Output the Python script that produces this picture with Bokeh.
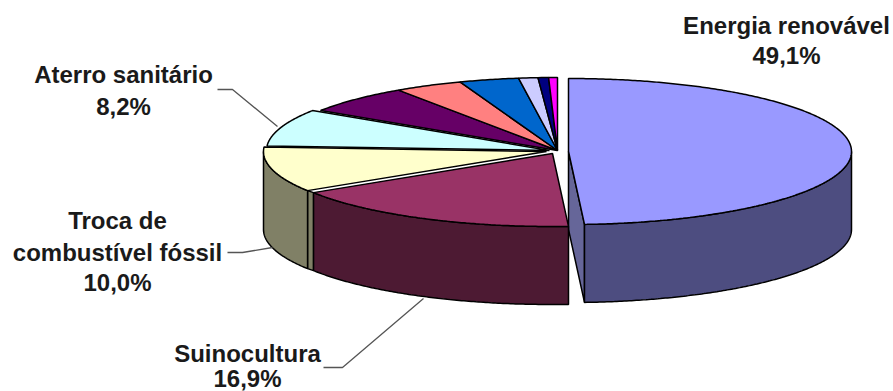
import numpy as np
from bokeh.core.properties import value
from bokeh.embed import file_html
from bokeh.models import Range1d
from bokeh.plotting import figure
from bokeh.resources import INLINE

# Share of each source, clockwise from twelve o'clock
categories = ["Energia renovável", "Suinocultura", "Troca de combustível fóssil",
              "Aterro sanitário", "Outros 1", "Outros 2", "Outros 3", "Outros 4",
              "Outros 5", "Outros 6"]
shares = [49.1, 16.9, 10.0, 8.2, 6.3, 3.9, 3.4, 1.1, 0.6, 0.5]
top_colors = ["#9999ff", "#993366", "#ffffcc", "#ccffff", "#660066",
              "#ff8080", "#0066cc", "#ccccff", "#000080", "#ff00ff"]
wall_colors = ["#4d4d80", "#4d1a33", "#808066", "#668080", "#330033",
               "#804040", "#003366", "#666680", "#000040", "#800080"]

# Centre of each slice on the page: the slices are pulled apart by different amounts
centre_x = [568, 552, 546, 549, 557, 557, 557, 557, 557, 557]
centre_y = [151, 153, 151, 150, 150, 150, 150, 150, 150, 150]
RX, RY, DEPTH = 283, 73, 78
EDGE = 1.5

p = figure(width=893, height=391, output_backend="svg", toolbar_location=None,
           x_range=Range1d(0, 893), y_range=Range1d(391, 0),
           min_border=0, outline_line_color=None, background_fill_color="white",
           border_fill_color="white")
p.axis.visible = False
p.grid.visible = False


def rim(cx, cy, a0, a1, drop=0.0):
    """Rim points between two clockwise angles in degrees."""
    t = np.radians(np.linspace(a0, a1, max(int(abs(a1 - a0)) * 2, 2)))
    return cx + RX * np.sin(t), cy - RY * np.cos(t) + drop


edges = np.concatenate([[0], np.cumsum(shares)]) * 3.6

# Olive face showing in the gap between the fuel-switch and swine slices
xt, yt = rim(centre_x[2], centre_y[2], edges[2], edges[3])
xs, ys = rim(centre_x[1], centre_y[1], edges[1], edges[2])
p.patch([xt[0], xs[-1], xs[-1], xt[0]],
        [yt[0], ys[-1], ys[-1] + DEPTH, yt[0] + DEPTH],
        fill_color=wall_colors[2], line_color="black", line_width=EDGE)

# Radial face of the large exploded slice
xr, yr = rim(centre_x[0], centre_y[0], edges[0], edges[1])
p.patch([centre_x[0], xr[-1], xr[-1], centre_x[0]],
        [centre_y[0], yr[-1], yr[-1] + DEPTH, centre_y[0] + DEPTH],
        fill_color="#666699", line_color="black", line_width=EDGE)

# Outer walls, only along the front half of the ellipse
for i in range(len(shares)):
    a0, a1 = max(edges[i], 90), min(edges[i + 1], 270)
    if a1 <= a0:
        continue
    x, y = rim(centre_x[i], centre_y[i], a0, a1)
    p.patch(np.concatenate([x, x[::-1]]), np.concatenate([y, y[::-1] + DEPTH]),
            fill_color=wall_colors[i], line_color="black", line_width=EDGE)

# Top faces
for i in range(len(shares)):
    x, y = rim(centre_x[i], centre_y[i], edges[i], edges[i + 1])
    p.patch(np.concatenate([[centre_x[i]], x]), np.concatenate([[centre_y[i]], y]),
            fill_color=top_colors[i], line_color="black", line_width=EDGE)

# Leader lines
leaders_x = [[217, 232, 277], [227, 242, 272], [323, 342, 423]]
leaders_y = [[89, 89, 126], [252, 252, 247], [367, 367, 298]]
for lx, ly in zip(leaders_x, leaders_y):
    p.line(lx, ly, line_color="#555555", line_width=1.3)


def fmt(v):
    return f"{v:.1f}%".replace(".", ",")


# Value labels
label_rows = [
    (786, 25, categories[0]), (786, 55, fmt(shares[0])),
    (247, 353, categories[1]), (247, 378, fmt(shares[1])),
    (117, 220, "Troca de"), (117, 252, "combustível fóssil"), (117, 282, fmt(shares[2])),
    (123, 74, categories[3]), (123, 106, fmt(shares[3])),
]
p.text([r[0] for r in label_rows], [r[1] for r in label_rows], text=[r[2] for r in label_rows],
       text_align="center", text_baseline="middle", text_color="#1a1a1a",
       text_font=value("Liberation Sans"), text_font_size="24px", text_font_style="bold")

open("out.html", "w").write(file_html(p, INLINE))
